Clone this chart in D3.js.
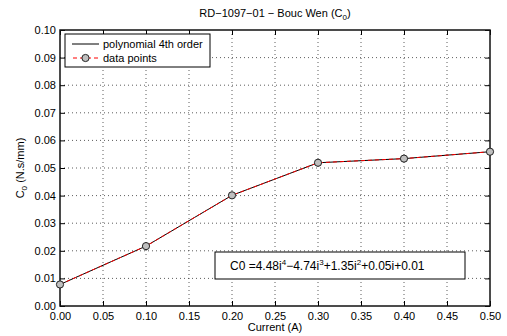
<!DOCTYPE html>
<html>
<head>
<meta charset="utf-8">
<script src="https://cdn.jsdelivr.net/npm/d3@7"></script>
<style>
body { margin: 0; background: #fff; }
svg { font-family: "Liberation Sans", Arial, sans-serif; }
.grid line { stroke: #333; stroke-dasharray: 1,3; stroke-width: 0.8; }
</style>
</head>
<body>
<div id="chart"></div>
<script>
// data
var current = [0.0, 0.1, 0.2, 0.3, 0.4, 0.5];
var c0Data = [0.0078, 0.0217, 0.0401, 0.0519, 0.0534, 0.0559];
var c0Fit = [0.0078, 0.0217, 0.0401, 0.0519, 0.0534, 0.0559];
var xTicks = [0, 0.05, 0.1, 0.15, 0.2, 0.25, 0.3, 0.35, 0.4, 0.45, 0.5];
var yTicks = [0, 0.01, 0.02, 0.03, 0.04, 0.05, 0.06, 0.07, 0.08, 0.09, 0.1];

var W = 507, H = 336;
var margin = {top: 30, right: 17, bottom: 30, left: 60};
var width = W - margin.left - margin.right;
var height = H - margin.top - margin.bottom;

var svg = d3.select("#chart").append("svg")
    .attr("width", W).attr("height", H);

var g = svg.append("g").attr("transform", "translate(" + margin.left + "," + margin.top + ")");

var x = d3.scaleLinear().domain([0, 0.5]).range([0, width]);
var y = d3.scaleLinear().domain([0, 0.1]).range([height, 0]);

// grid
g.append("g").attr("class", "grid")
    .selectAll("line").data(xTicks.slice(1, -1)).enter().append("line")
    .attr("x1", function(d){ return x(d); }).attr("x2", function(d){ return x(d); })
    .attr("y1", 0).attr("y2", height);
g.append("g").attr("class", "grid")
    .selectAll("line").data(yTicks.slice(1, -1)).enter().append("line")
    .attr("y1", function(d){ return y(d); }).attr("y2", function(d){ return y(d); })
    .attr("x1", 0).attr("x2", width);

// axes, ticks pointing inward like matlab
var fmt = d3.format(".2f");
var xAxis = g.append("g").attr("transform", "translate(0," + height + ")")
    .call(d3.axisBottom(x).tickValues(xTicks).tickFormat(fmt).tickSizeInner(-5).tickSizeOuter(0).tickPadding(6));
var yAxis = g.append("g")
    .call(d3.axisLeft(y).tickValues(yTicks).tickFormat(fmt).tickSizeInner(-5).tickSizeOuter(0).tickPadding(4));
g.append("g").call(d3.axisTop(x).tickValues(xTicks).tickFormat("").tickSizeInner(-5).tickSizeOuter(0));
g.append("g").attr("transform", "translate(" + width + ",0)")
    .call(d3.axisRight(y).tickValues(yTicks).tickFormat("").tickSizeInner(-5).tickSizeOuter(0));
g.selectAll(".tick text").attr("font-size", 11).attr("fill", "#000");
g.selectAll(".tick line").attr("stroke", "#000");
g.selectAll(".domain").remove();

g.append("rect").attr("width", width).attr("height", height)
    .attr("fill", "none").attr("stroke", "#111").attr("stroke-width", 1.5);

// lines
var line = d3.line()
    .x(function(d, i){ return x(current[i]); })
    .y(function(d){ return y(d); });

g.append("path").attr("d", line(c0Fit))
    .attr("fill", "none").attr("stroke", "#000").attr("stroke-width", 1);
g.append("path").attr("d", line(c0Data))
    .attr("fill", "none").attr("stroke", "#f00").attr("stroke-width", 1)
    .attr("stroke-dasharray", "4,3");
g.selectAll(".pt").data(c0Data).enter().append("circle")
    .attr("cx", function(d, i){ return x(current[i]); })
    .attr("cy", function(d){ return y(d); })
    .attr("r", 3.6)
    .attr("fill", "#bfbfbf").attr("stroke", "#222").attr("stroke-width", 1);

// legend
var lg = svg.append("g").attr("transform", "translate(65,34)");
lg.append("rect").attr("width", 145).attr("height", 33)
    .attr("fill", "#fff").attr("stroke", "#000").attr("stroke-width", 1);
lg.append("line").attr("x1", 7).attr("x2", 34).attr("y1", 10).attr("y2", 10)
    .attr("stroke", "#000");
lg.append("text").attr("x", 38).attr("y", 14).attr("font-size", 11).text("polynomial 4th order");
lg.append("line").attr("x1", 7).attr("x2", 34).attr("y1", 24).attr("y2", 24)
    .attr("stroke", "#f00").attr("stroke-dasharray", "4,3").attr("stroke-dashoffset", -1);
lg.append("circle").attr("cx", 20.5).attr("cy", 24).attr("r", 3.6)
    .attr("fill", "#bfbfbf").attr("stroke", "#222");
lg.append("text").attr("x", 38).attr("y", 28).attr("font-size", 11).text("data points");

// equation box
var eq = svg.append("g").attr("transform", "translate(215,252)");
eq.append("rect").attr("width", 250).attr("height", 27)
    .attr("fill", "#fff").attr("stroke", "#000").attr("stroke-width", 1);
var et = eq.append("text").attr("x", 15).attr("y", 18).attr("font-size", 12);
var parts = [["C0 =4.48i", ""], ["4", "sup"], ["\u22124.74i", ""], ["3", "sup"],
             ["+1.35i", ""], ["2", "sup"], ["+0.05i+0.01", ""]];
parts.forEach(function(p){
    var ts = et.append("tspan").text(p[0]);
    if (p[1] == "sup") ts.attr("dy", -5).attr("font-size", 8);
    else if (et.selectAll("tspan").size() > 1) ts.attr("dy", 5);
});

// title
var tt = svg.append("text").attr("x", margin.left + width / 2).attr("y", 17)
    .attr("text-anchor", "middle").attr("font-size", 11);
tt.append("tspan").text("RD\u22121097\u221201 \u2212 Bouc Wen (C");
tt.append("tspan").attr("dy", 3).attr("font-size", 8).text("0");
tt.append("tspan").attr("dy", -3).text(")");

// axis labels
svg.append("text").attr("x", margin.left + width / 2).attr("y", 331)
    .attr("text-anchor", "middle").attr("font-size", 11).text("Current (A)");
var yl = svg.append("text").attr("transform", "translate(24," + (margin.top + height / 2) + ") rotate(-90)")
    .attr("text-anchor", "middle").attr("font-size", 11);
yl.append("tspan").text("C");
yl.append("tspan").attr("dy", 3).attr("font-size", 8).text("0");
yl.append("tspan").attr("dy", -3).text(" (N.s/mm)");
</script>
</body>
</html>
